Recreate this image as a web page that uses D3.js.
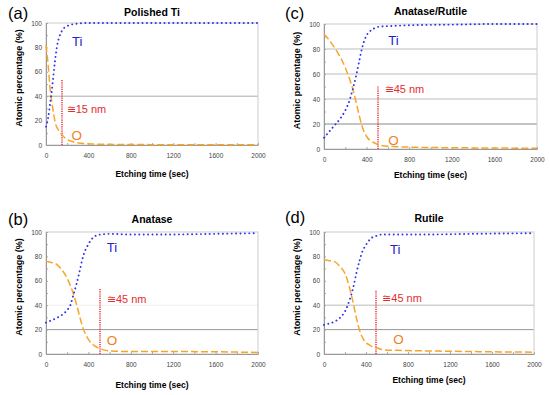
<!DOCTYPE html>
<html>
<head>
<meta charset="utf-8">
<script src="https://cdn.jsdelivr.net/npm/d3@7"></script>
<style>
  body { margin: 0; background: #fff; }
  svg { font-family: "Liberation Sans", Arial, sans-serif; }
  .tick text { fill: #444; font-size: 6.5px; }
</style>
</head>
<body>
<div id="chart"></div>
<script>
// tick labels
var xTicks = [0, 400, 800, 1200, 1600, 2000];
var yTicks = [0, 20, 40, 60, 80, 100];

// (a) Polished Ti
var timeA = [0, 20, 40, 55, 70, 85, 100, 120, 150, 200, 280, 400, 600, 1000, 1500, 2000];
var tiA   = [15, 22, 35, 45, 57, 69, 79, 87, 93.5, 97.5, 99.3, 100, 100, 100, 100, 100];
var oA    = [82, 66, 45, 35, 27, 19, 15, 12, 8.5, 4.4, 2.2, 1, 0.5, 0.3, 0.2, 0.2];

// (c) Anatase/Rutile
var timeC = [0, 50, 100, 150, 200, 240, 270, 300, 330, 355, 380, 400, 430, 470, 530, 650, 800, 1200, 1600, 2000];
var tiC   = [9, 14, 19, 24, 31, 39, 48, 58, 70, 80, 87, 91, 94, 96.5, 98, 98.5, 99, 99.5, 100, 100];
var oC    = [92, 87, 81, 74, 65, 56, 48, 38, 27, 19, 13, 10, 7, 5, 3, 2, 1.5, 1, 0.8, 0.5];

// (b) Anatase
var timeB = [0, 50, 100, 150, 200, 230, 260, 290, 320, 350, 400, 460, 520, 600, 800, 1200, 1600, 2000];
var tiB   = [25.7, 27.5, 29.5, 32, 36, 40, 49, 58, 69, 80, 90, 96.5, 98, 98.5, 98, 98, 98.5, 99];
var oB    = [76, 75, 73.5, 69, 62, 56, 49, 40, 30, 21, 12, 6.6, 4, 2.5, 2, 2, 1.8, 1.3];

// (d) Rutile
var timeD = [0, 50, 100, 150, 200, 250, 280, 310, 340, 370, 390, 420, 450, 490, 560, 700, 1000, 1400, 2000];
var tiD   = [23.8, 25, 26.5, 29.5, 35, 46, 55, 67, 77, 85, 88, 92, 95, 96.5, 98, 98, 98, 98.5, 99];
var oD    = [77, 76.5, 75.7, 72, 66, 52, 41, 29, 19, 13, 10, 8, 6.5, 5.5, 3.5, 3, 2.5, 2, 1.5];

var panels = [
  {id: "(a)", title: "Polished Ti", time: timeA, ti: tiA, o: oA,
   box: [46, 23, 258, 145], lx: 8, ly: 19, ty: 16, xly: 177,
   grids: [[40, "#aaa"]], depth: 152, depthTop: 53.5, depthLabel: "\u224515 nm", dlx: 195, dly: 29.5,
   tiLab: [245, 85], oLab: [240, 8]},
  {id: "(c)", title: "Anatase/Rutile", time: timeC, ti: tiC, o: oC,
   box: [324, 24, 537, 149], lx: 285, ly: 19, ty: 15, xly: 178,
   grids: [[20, "#888"], [40, "#bbb"], [60, "#bbb"], [80, "#bbb"]], depth: 505, depthTop: 50, depthLabel: "\u224545 nm", dlx: 570, dly: 48,
   tiLab: [603, 86.5], oLab: [603, 7]},
  {id: "(b)", title: "Anatase", time: timeB, ti: tiB, o: oB,
   box: [46, 232, 258, 354], lx: 8, ly: 225, ty: 223, xly: 388,
   grids: [[20, "#999"], [40, "#eee"]], depth: 510, depthTop: 54, depthLabel: "\u224545 nm", dlx: 575, dly: 45,
   tiLab: [574, 87], oLab: [574, 11.5]},
  {id: "(d)", title: "Rutile", time: timeD, ti: tiD, o: oD,
   box: [324, 232, 534, 354], lx: 285, ly: 223, ty: 222, xly: 383,
   grids: [[20, "#999"], [40, "#bbb"]], depth: 491, depthTop: 52.5, depthLabel: "\u224545 nm", dlx: 555, dly: 45.5,
   tiLab: [629, 86], oLab: [660, 12.3]}
];

var svg = d3.select("#chart").append("svg")
    .attr("width", 550)
    .attr("height", 395);

panels.forEach(function(p) {
    var x = d3.scaleLinear().domain([0, 2000]).range([p.box[0], p.box[2]]);
    var y = d3.scaleLinear().domain([0, 100]).range([p.box[3], p.box[1]]);
    var g = svg.append("g");
    var cx = (p.box[0] + p.box[2]) / 2;

    // panel letter and title
    g.append("text").attr("x", p.lx).attr("y", p.ly)
        .style("font-size", "16.5px").text(p.id);
    g.append("text").attr("x", cx).attr("y", p.ty)
        .attr("text-anchor", "middle")
        .style("font-size", "10.5px").style("font-weight", "bold")
        .text(p.title);

    // grid lines
    p.grids.forEach(function(gr) {
        g.append("line")
            .attr("x1", x(0)).attr("x2", x(2000))
            .attr("y1", y(gr[0])).attr("y2", y(gr[0]))
            .style("stroke", gr[1]).style("stroke-width", 1);
    });

    // frame
    g.append("rect")
        .attr("x", x(0)).attr("y", y(100))
        .attr("width", x(2000) - x(0)).attr("height", y(0) - y(100))
        .style("fill", "none").style("stroke", "#ccc");

    // minor ticks, inside the frame
    g.append("g")
        .attr("transform", "translate(0," + y(0) + ")")
        .call(d3.axisTop(x).ticks(10).tickSize(2).tickFormat(""))
        .call(function(a) {
            a.select(".domain").remove();
            a.selectAll("line").style("stroke", "#aaa");
        });
    g.append("g")
        .attr("transform", "translate(" + x(0) + ",0)")
        .call(d3.axisRight(y).ticks(10).tickSize(2).tickFormat(""))
        .call(function(a) {
            a.select(".domain").remove();
            a.selectAll("line").style("stroke", "#aaa");
        });

    // axes
    g.append("g")
        .attr("transform", "translate(0," + y(0) + ")")
        .call(d3.axisBottom(x).tickValues(xTicks).tickSize(0).tickPadding(8)
            .tickFormat(d3.format("d")))
        .call(function(a) { a.select(".domain").style("stroke", "#999"); });
    g.append("g")
        .attr("transform", "translate(" + x(0) + ",0)")
        .call(d3.axisLeft(y).tickValues(yTicks).tickSize(0).tickPadding(4))
        .call(function(a) { a.select(".domain").style("stroke", "#999"); });

    // axis labels
    g.append("text").attr("x", cx).attr("y", p.xly)
        .attr("text-anchor", "middle")
        .style("font-size", "8.5px").style("font-weight", "bold")
        .text("Etching time (sec)");
    g.append("text")
        .attr("transform", "translate(" + (p.box[0] - 24) + "," + ((p.box[1] + p.box[3]) / 2 - 6) + ") rotate(-90)")
        .attr("text-anchor", "middle")
        .style("font-size", "9px").style("font-weight", "bold")
        .text("Atomic percentage (%)");

    // depth marker
    g.append("line")
        .attr("x1", Math.round(x(p.depth))).attr("x2", Math.round(x(p.depth)))
        .attr("y1", y(0)).attr("y2", y(p.depthTop))
        .style("stroke", "#e8333a").style("stroke-width", 1.5)
        .style("stroke-dasharray", "1.2,1");
    g.append("text").attr("x", x(p.dlx)).attr("y", y(p.dly))
        .attr("dy", "0.35em")
        .style("font-size", "11px").style("fill", "#e52d2d")
        .text(p.depthLabel);

    var line = d3.line().curve(d3.curveMonotoneX)
        .x(function(d, i) { return x(p.time[i]); })
        .y(function(d) { return y(d); });

    // O curve
    g.append("path").datum(p.o)
        .attr("d", line)
        .style("fill", "none").style("stroke", "#f7a52a")
        .style("stroke-width", 1.5).style("stroke-dasharray", "7,3");

    // Ti curve
    g.append("path").datum(p.ti)
        .attr("d", line)
        .style("fill", "none").style("stroke", "#3333ee")
        .style("stroke-width", 1.9).style("stroke-linecap", "round")
        .style("stroke-dasharray", "0.1,4.3");

    g.append("text").attr("x", x(p.tiLab[0])).attr("y", y(p.tiLab[1]))
        .attr("dy", "0.35em")
        .style("font-size", "13px").style("fill", "#2222cc")
        .text("Ti");
    g.append("text").attr("x", x(p.oLab[0])).attr("y", y(p.oLab[1]))
        .attr("dy", "0.35em")
        .style("font-size", "13.5px").style("fill", "#f07f1a")
        .text("O");
});
</script>
</body>
</html>
